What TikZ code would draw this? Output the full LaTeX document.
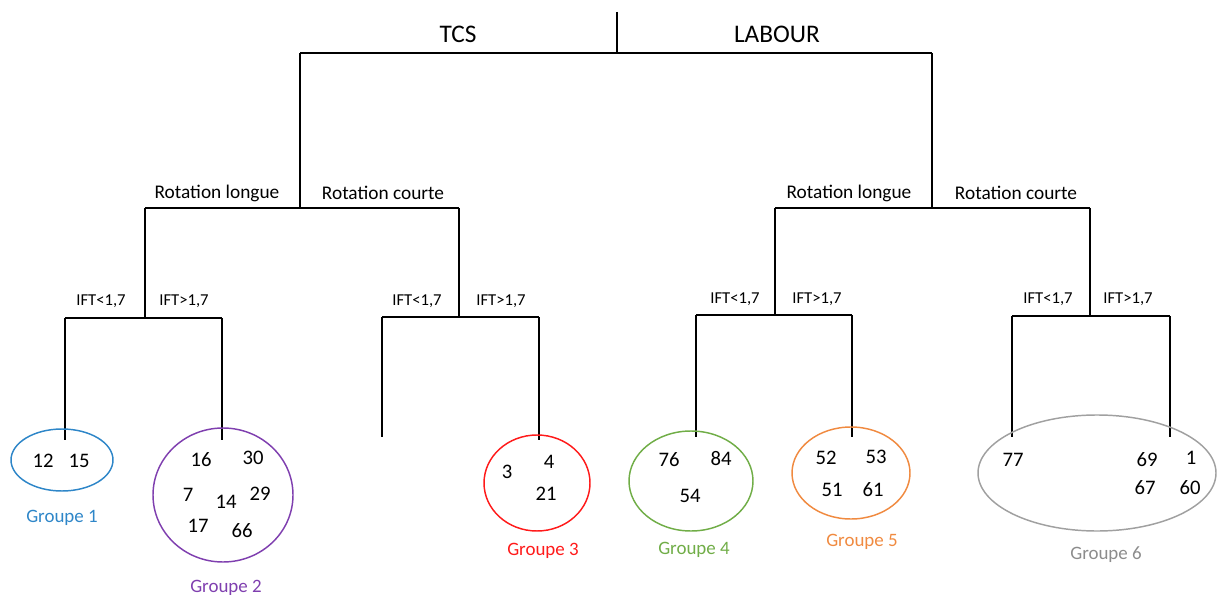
\documentclass[tikz,border=0pt]{standalone}
\usepackage{fontspec}
\setmainfont{Carlito}
\definecolor{gA}{HTML}{2E86C8}
\definecolor{gB}{HTML}{7F3FAF}
\definecolor{gC}{HTML}{FF1A1A}
\definecolor{gD}{HTML}{70AD47}
\definecolor{gE}{HTML}{F08A40}
\definecolor{gF}{HTML}{A0A0A0}
\definecolor{gFt}{HTML}{8C8C8C}
\begin{document}
\begin{tikzpicture}[x=0.75pt,y=-0.75pt,
  branch/.style={line width=1.5pt,black},
  lvlone/.style={font=\fontsize{19}{21}\selectfont,inner sep=0pt},
  lvltwo/.style={font=\fontsize{14.5}{16}\selectfont,inner sep=0pt},
  lvlthree/.style={font=\fontsize{12.5}{14}\selectfont,inner sep=0pt},
  num/.style={font=\fontsize{15.5}{17}\selectfont,inner sep=0pt},
  grp/.style={font=\fontsize{14.2}{16}\selectfont,inner sep=0pt}]
\useasboundingbox (0,0) rectangle (1217,595);
% ---- coordinates
\coordinate (top) at (617,12);
\coordinate (r) at (617,53);
\coordinate (tl) at (300,53);
\coordinate (tr) at (932,53);
\coordinate (A) at (300,208);
\coordinate (B) at (932,208);
\coordinate (Al) at (145,208);
\coordinate (Ar) at (459,208);
\coordinate (Bl) at (775,208);
\coordinate (Br) at (1090,208);
% level 3 junctions
\coordinate (AlJ) at (145,318);
\coordinate (ArJ) at (459,317);
\coordinate (BlJ) at (775,315);
\coordinate (BrJ) at (1090,316);
\coordinate (AlL) at (65,318);  \coordinate (AlR) at (222,318);
\coordinate (ArL) at (382,317); \coordinate (ArR) at (539,317);
\coordinate (BlL) at (696,315); \coordinate (BlR) at (852,315);
\coordinate (BrL) at (1012,316);\coordinate (BrR) at (1170,316);
\coordinate (e1) at (65,440);  \coordinate (e2) at (222,440);
\coordinate (e3) at (382,437); \coordinate (e4) at (539,440);
\coordinate (e5) at (696,437); \coordinate (e6) at (852,437);
\coordinate (e7) at (1012,437);\coordinate (e8) at (1170,437);
% ---- tree
\draw[branch] (top) -- (r);
\draw[branch] (tl) -- (tr);
\draw[branch] (tl) -- (A);
\draw[branch] (tr) -- (B);
\draw[branch] (Al) -- (Ar);
\draw[branch] (Bl) -- (Br);
\draw[branch] (Al) -- (AlJ);
\draw[branch] (Ar) -- (ArJ);
\draw[branch] (Bl) -- (BlJ);
\draw[branch] (Br) -- (BrJ);
\draw[branch] (AlL) -- (AlR);
\draw[branch] (ArL) -- (ArR);
\draw[branch] (BlL) -- (BlR);
\draw[branch] (BrL) -- (BrR);
\draw[branch] (AlL) -- (e1);
\draw[branch] (AlR) -- (e2);
\draw[branch] (ArL) -- (e3);
\draw[branch] (ArR) -- (e4);
\draw[branch] (BlL) -- (e5);
\draw[branch] (BlR) -- (e6);
\draw[branch] (BrL) -- (e7);
\draw[branch] (BrR) -- (e8);
% ---- labels
\node[lvlone] (tcs) at (458,34) {TCS};
\node[lvlone] (lab) at (777,34) {LABOUR};
\node[lvltwo] (rl1) at (217,193) {Rotation longue};
\node[lvltwo] (rc1) at (383,193) {Rotation courte};
\node[lvltwo] (rl2) at (849,193) {Rotation longue};
\node[lvltwo] (rc2) at (1016,193) {Rotation courte};
\node[lvlthree] (i1) at (101,301) {IFT<1,7};
\node[lvlthree] (i2) at (184,301) {IFT>1,7};
\node[lvlthree] (i3) at (417,301) {IFT<1,7};
\node[lvlthree] (i4) at (501,301) {IFT>1,7};
\node[lvlthree] (i5) at (735,299) {IFT<1,7};
\node[lvlthree] (i6) at (817,299) {IFT>1,7};
\node[lvlthree] (i7) at (1048,299) {IFT<1,7};
\node[lvlthree] (i8) at (1128,299) {IFT>1,7};
% ---- groups
\draw[gA,line width=1.1pt] (62,460) ellipse [x radius=51,y radius=31];
\node[num] (n12) at (43,461) {12};
\node[num] (n15) at (79,461) {15};
\node[grp,text=gA] (g1) at (62,518) {Groupe 1};

\draw[gB,line width=1.1pt] (223,495) ellipse [x radius=70,y radius=67];
\node[num] (n16) at (201,460) {16};
\node[num] (n30) at (253,458) {30};
\node[num] (n7) at (188,495) {7};
\node[num] (n14) at (226,502) {14};
\node[num] (n29) at (260,494) {29};
\node[num] (n17) at (198,526) {17};
\node[num] (n66) at (242,531) {66};
\node[grp,text=gB] (g2) at (226,588) {Groupe 2};

\draw[gC,line width=1.1pt] (537,483) ellipse [x radius=53,y radius=48];
\node[num] (n3) at (507,472) {3};
\node[num] (n4) at (549,462) {4};
\node[num] (n21) at (546,494) {21};
\node[grp,text=gC] (g3) at (543,551) {Groupe 3};

\draw[gD,line width=1.1pt] (691,481) ellipse [x radius=62,y radius=50];
\node[num] (n76) at (669,460) {76};
\node[num] (n84) at (721,459) {84};
\node[num] (n54) at (690,496) {54};
\node[grp,text=gD] (g4) at (694,550) {Groupe 4};

\draw[gE,line width=1.1pt] (851,473) ellipse [x radius=59,y radius=46];
\node[num] (n52) at (826,458) {52};
\node[num] (n53) at (876,457) {53};
\node[num] (n51) at (832,490) {51};
\node[num] (n61) at (873,490) {61};
\node[grp,text=gE] (g5) at (862,542) {Groupe 5};

\draw[gF,line width=1.1pt] (1097,473) ellipse [x radius=119,y radius=58];
\node[num] (n77) at (1013,460) {77};
\node[num] (n69) at (1147,460) {69};
\node[num] (n1) at (1191,458) {1};
\node[num] (n67) at (1145,488) {67};
\node[num] (n60) at (1190,488) {60};
\node[grp,text=gFt] (g6) at (1106,555) {Groupe 6};
\end{tikzpicture}
\end{document}
